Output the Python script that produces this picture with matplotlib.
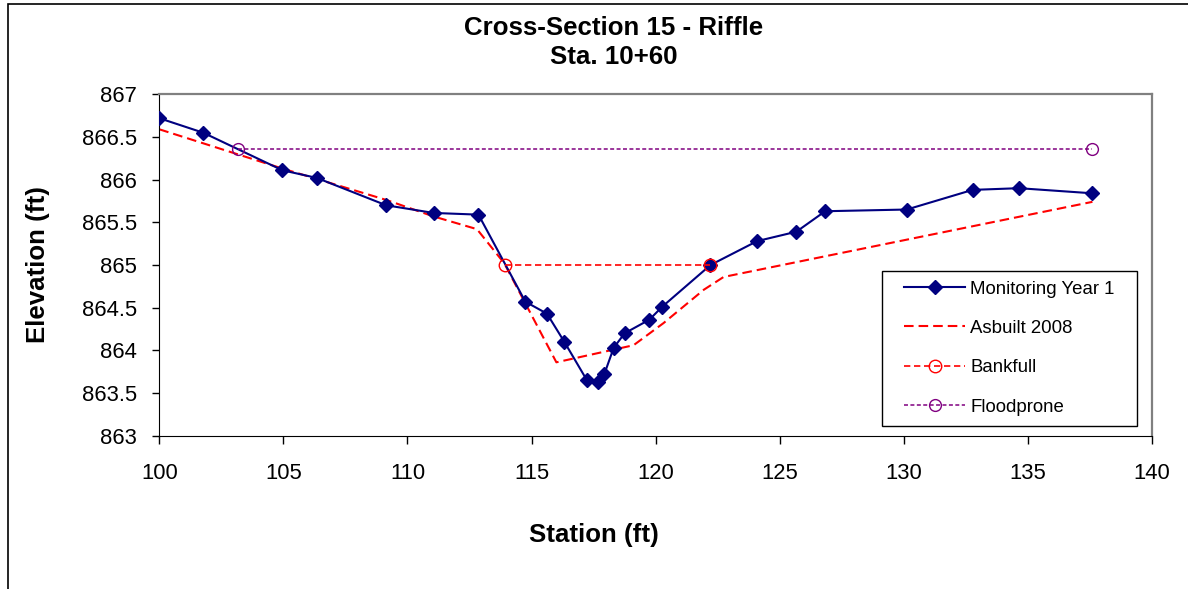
import matplotlib
matplotlib.use('Agg')
import matplotlib.pyplot as plt
from matplotlib.patches import Rectangle
from matplotlib.ticker import FuncFormatter, MultipleLocator

plt.rcParams['font.family'] = ['Liberation Sans', 'DejaVu Sans']

# Monitoring Year 1 survey
my1_station = [100.0, 101.77, 104.96, 106.35, 109.14, 111.05, 112.86, 114.75, 115.62,
               116.32, 117.23, 117.68, 117.93, 118.31, 118.75, 119.75, 120.26, 122.21,
               124.09, 125.67, 126.83, 130.12, 132.77, 134.64, 137.60]
my1_elev = [866.72, 866.55, 866.11, 866.02, 865.70, 865.61, 865.59, 864.57, 864.43,
            864.10, 863.65, 863.63, 863.72, 864.03, 864.20, 864.36, 864.51, 865.00,
            865.28, 865.39, 865.63, 865.65, 865.88, 865.90, 865.84]

# Asbuilt 2008 survey
asb_station = [100.0, 104.96, 109.17, 111.04, 112.8, 113.9, 116.0, 119.11, 120.32,
               121.94, 122.74, 137.6]
asb_elev = [866.59, 866.13, 865.76, 865.57, 865.42, 865.02, 863.86, 864.06, 864.32,
            864.71, 864.86, 865.74]

# Bankfull / floodprone
bkf_station = [113.94, 122.21]
bkf_elev = [865.0, 865.0]
fp_station = [103.19, 137.57]
fp_elev = [866.36, 866.36]

W, H = 1188, 589
fig = plt.figure(figsize=(W / 100, H / 100), dpi=100)
ax = fig.add_axes([159.3 / W, 1 - 435.7 / H, (1152 - 159.3) / W, (435.7 - 94.3) / H])

ax.plot(my1_station, my1_elev, color='#000080', lw=1.5, marker='D', ms=6.8,
        mec='#000080', mfc='#000080', label='Monitoring Year 1', zorder=3)
ax.plot(asb_station, asb_elev, color='#ff0000', lw=1.5, dashes=(4.6, 2.4),
        label='Asbuilt 2008', zorder=2)
ax.plot(bkf_station, bkf_elev, color='#ff0000', lw=1.2, dashes=(3.8, 2.2), marker='o',
        ms=9, mfc='none', mec='#ff0000', mew=1.0, label='Bankfull', zorder=4)
ax.plot(fp_station, fp_elev, color='#800080', lw=1.1, dashes=(2.6, 1.6), marker='o',
        ms=8.5, mfc='none', mec='#800080', mew=1.0, label='Floodprone', zorder=4)

ax.set_xlim(100, 140)
ax.set_ylim(863, 867)
ax.xaxis.set_major_locator(MultipleLocator(5))
ax.yaxis.set_major_locator(MultipleLocator(0.5))
ax.yaxis.set_major_formatter(FuncFormatter(lambda v, p: '%g' % v))
ax.tick_params(axis='x', direction='out', length=5.4, width=1, labelsize=15.8, pad=14)
ax.tick_params(axis='y', direction='out', length=5.4, width=1, labelsize=15.8, pad=10.5)
ax.spines['left'].set_color('black')
ax.spines['bottom'].set_color('black')
for s in ('top', 'right'):
    ax.spines[s].set_color('#808080')
    ax.spines[s].set_linewidth(1.6)

fig.text(614 / W, 1 - 28 / H, 'Cross-Section 15 - Riffle', ha='center', va='center',
         fontsize=18.6, fontweight='bold')
fig.text(614 / W, 1 - 57 / H, 'Sta. 10+60', ha='center', va='center',
         fontsize=18.6, fontweight='bold')
fig.text(594 / W, 1 - 535 / H, 'Station (ft)', ha='center', va='center',
         fontsize=18.6, fontweight='bold')
fig.text(38 / W, 1 - 265 / H, 'Elevation (ft)', ha='center', va='center',
         fontsize=18.6, fontweight='bold', rotation=90)

leg = ax.legend(loc='upper left', bbox_to_anchor=((904.3 - 159.3) / (1152 - 159.3),
                (435.7 - 280.5) / (435.7 - 94.3)), frameon=False, borderpad=0,
                borderaxespad=0, fontsize=13.4, handlelength=3.25, handletextpad=0.3,
                labelspacing=1.2, numpoints=1)

# outer chart border (left and top edges visible)
fig.patches.append(Rectangle((7.5 / W, -0.5), 2, 0.5 + 1 - 4 / H, transform=fig.transFigure,
                             fill=False, ec='black', lw=1.2))

# legend frame with wider horizontal padding
fig.canvas.draw()
bb = leg.get_window_extent(fig.canvas.get_renderer())
px, py = 22, 10
fig.patches.append(Rectangle(((bb.x0 - px) / W, (bb.y0 - py) / H),
                             (bb.width + 2 * px) / W, (bb.height + 2 * py) / H,
                             transform=fig.transFigure, fill=False, ec='black', lw=1.0,
                             zorder=5))

fig.savefig('out.png', dpi=100)
